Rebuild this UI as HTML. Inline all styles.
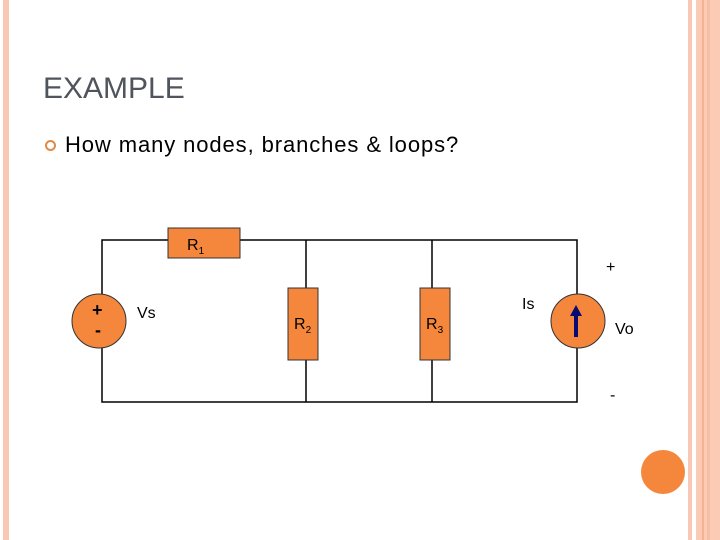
<!DOCTYPE html>
<html><head><style>
body{margin:0;width:720px;height:540px;background:#fff;position:relative;overflow:hidden;font-family:"Liberation Sans",sans-serif}
.a{position:absolute}
</style></head><body>
<div class="a" style="left:3px;top:0;width:6px;height:540px;background:#f8c8b4"></div>
<div class="a" style="left:688px;top:0;width:4px;height:540px;background:#f8c8b4"></div>
<div class="a" style="left:696px;top:0;width:24px;height:540px;background:#fbcbb5"></div>
<div class="a" style="left:702px;top:0;width:2px;height:540px;background:#f4b394"></div>
<div class="a" style="left:707px;top:0;width:3px;height:540px;background:#f6bea3"></div>
<div class="a" style="left:43px;top:72px;font-size:30px;color:#50545c">EXAMPLE</div>
<div class="a" style="left:45px;top:140px;width:7px;height:7px;border:2px solid #e08a45;border-radius:50%"></div>
<div class="a" style="left:65px;top:132px;font-size:22px;letter-spacing:0.9px;color:#000">How many nodes, branches &amp; loops?</div>
<svg class="a" style="left:0;top:0" width="720" height="540">
<g stroke="#000" stroke-width="1.5" fill="none">
<polyline points="102,294 102,240 577,240 577,294"/>
<polyline points="102,346 102,402 577,402 577,346"/>
<line x1="306" y1="240" x2="306" y2="402"/>
<line x1="432" y1="240" x2="432" y2="402"/>
</g>
<g fill="#f5873d" stroke="#333" stroke-width="1">
<rect x="168" y="228" width="72" height="30"/>
<rect x="288" y="288" width="30" height="72"/>
<rect x="420" y="288" width="30" height="72"/>
<circle cx="99" cy="321" r="27"/>
<circle cx="578" cy="321" r="27"/>
</g>
<circle cx="663" cy="472" r="22" fill="#f5873d"/>
<line x1="576" y1="337" x2="576" y2="312" stroke="#0a0a70" stroke-width="4"/>
<polygon points="576,305 570,316 582,316" fill="#0a0a70"/>
<g font-family="Liberation Sans,sans-serif" fill="#000">
<text x="187" y="250" font-size="16">R<tspan font-size="10" dy="4">1</tspan></text>
<text x="294" y="329" font-size="16">R<tspan font-size="10" dy="4">2</tspan></text>
<text x="426" y="329" font-size="16">R<tspan font-size="10" dy="4">3</tspan></text>
<text x="92" y="316" font-size="18" font-weight="bold">+</text>
<text x="95" y="336" font-size="18" font-weight="bold">-</text>
<text x="137" y="318" font-size="16">Vs</text>
<text x="522" y="309" font-size="16">Is</text>
<text x="615" y="334" font-size="16">Vo</text>
<text x="606" y="272" font-size="16">+</text>
<text x="610" y="400" font-size="16">-</text>
</g>
</svg>
</body></html>
